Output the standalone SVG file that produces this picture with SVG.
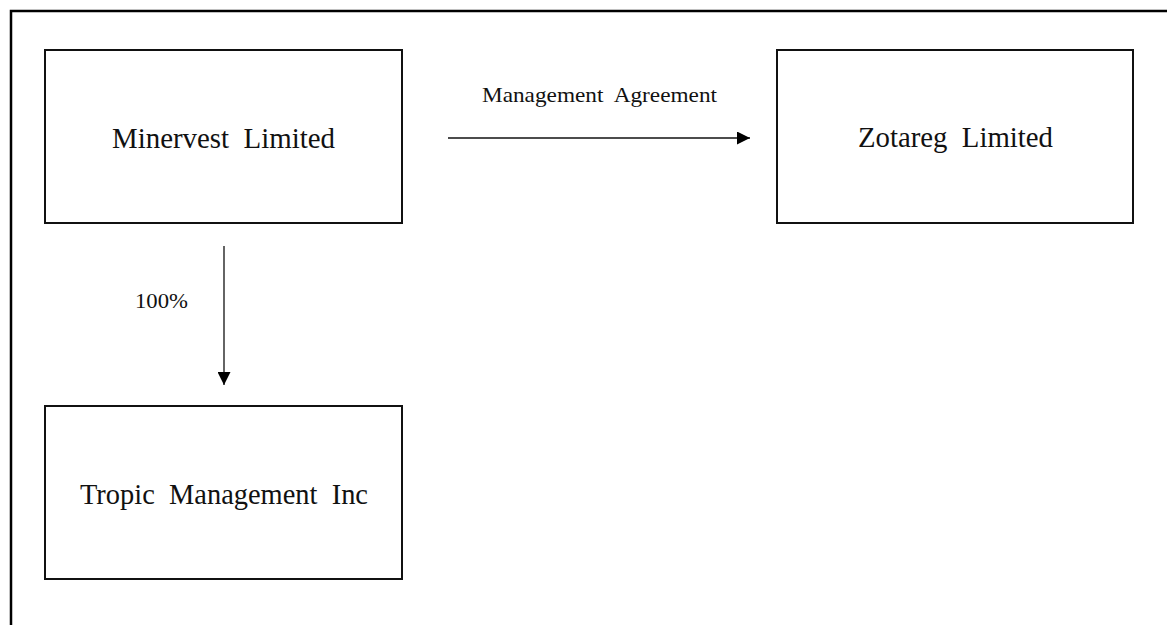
<svg xmlns="http://www.w3.org/2000/svg" width="1167" height="625" viewBox="0 0 1167 625" xml:space="preserve">
<style>
.box{fill:#fff;stroke:#111;stroke-width:2}
.frame{fill:none;stroke:#000;stroke-width:2.5}
.lbl{font-family:"Liberation Serif","Times New Roman",serif;fill:#111;text-anchor:middle;white-space:pre}
.node{font-size:29px}
.edge{font-size:21px}
.pct{font-size:22px}
.conn{stroke:#111;stroke-width:1.3;fill:none}
</style>
<defs>
<marker id="arr" markerWidth="13" markerHeight="13" refX="13" refY="6.5" orient="auto" markerUnits="userSpaceOnUse">
<path d="M0,0 L13,6.5 L0,13 Z" fill="#000"/>
</marker>
</defs>
<rect width="1167" height="625" fill="#fff"/>
<path class="frame" d="M11,625 V11 H1167"/>
<g id="minervest">
<rect class="box" x="45" y="50" width="357" height="173"/>
<text class="lbl node" x="223.5" y="148" textLength="223" lengthAdjust="spacingAndGlyphs">Minervest  Limited</text>
</g>
<g id="zotareg">
<rect class="box" x="777" y="50" width="356" height="173"/>
<text class="lbl node" x="955.5" y="147" textLength="195" lengthAdjust="spacingAndGlyphs">Zotareg  Limited</text>
</g>
<g id="tropic">
<rect class="box" x="45" y="406" width="357" height="173"/>
<text class="lbl node" x="224" y="504" textLength="288" lengthAdjust="spacingAndGlyphs">Tropic  Management  Inc</text>
</g>
<g id="connectors">
<line class="conn" x1="448" y1="138" x2="750" y2="138" marker-end="url(#arr)"/>
<text class="lbl edge" x="599.5" y="102" textLength="235" lengthAdjust="spacingAndGlyphs">Management  Agreement</text>
<line class="conn" x1="224" y1="246" x2="224" y2="385" marker-end="url(#arr)"/>
<text class="lbl pct" x="161.5" y="308" textLength="53" lengthAdjust="spacingAndGlyphs">100%</text>
</g>
</svg>
